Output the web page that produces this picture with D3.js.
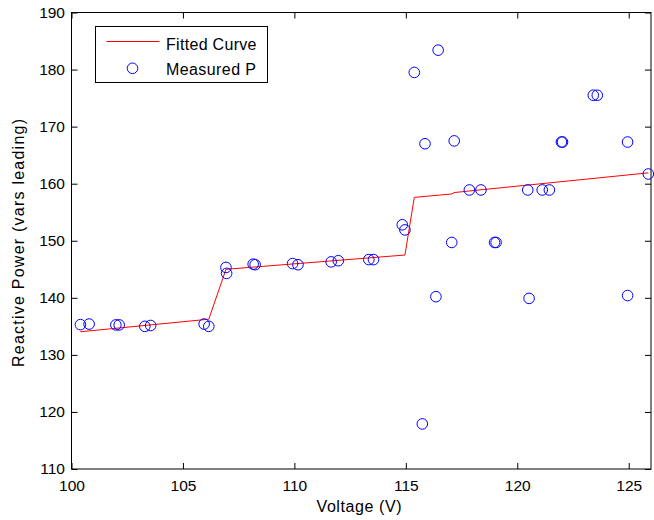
<!DOCTYPE html>
<html>
<head>
<meta charset="utf-8">
<script src="https://cdn.jsdelivr.net/npm/d3@7"></script>
<style>
  body { margin: 0; background: #fff; }
  svg { display: block; }
  text { font-family: "Liberation Sans", Arial, sans-serif; fill: #000; }
</style>
</head>
<body>
<div id="chart"></div>
<script>
// measured points
var voltage = [100.40, 100.79, 101.99, 102.14, 103.29, 103.55, 105.95, 106.16,
  106.93, 106.96, 108.15, 108.24, 109.92, 110.16, 111.65, 111.97, 113.34, 113.55,
  114.84, 114.96, 115.38, 115.74, 115.86, 116.35, 116.45, 117.06, 117.17, 117.85,
  118.37, 118.98, 119.05, 120.47, 120.53, 121.12, 121.44, 121.98, 122.03, 123.41,
  123.59, 124.95, 124.95, 125.88];
var power = [135.3, 135.4, 135.25, 135.25, 135.0, 135.15, 135.4, 135.0,
  145.33, 144.28, 145.9, 145.8, 146.0, 145.8, 146.3, 146.5, 146.7, 146.7,
  152.8, 151.9, 179.5, 117.9, 167.0, 140.2, 183.4, 149.7, 167.5, 158.9,
  158.9, 149.7, 149.7, 158.9, 139.9, 158.9, 158.9, 167.3, 167.3, 175.5,
  175.5, 167.3, 140.4, 161.7];

// fitted curve
var fitVoltage = [100.40, 106.16, 106.93, 114.96, 115.38, 117.06, 117.17, 125.88];
var fitPower = [134.05, 136.25, 145.0, 147.5, 157.6, 158.2, 158.45, 161.9];

var xTicks = [100, 105, 110, 115, 120, 125];
var yTicks = [110, 120, 130, 140, 150, 160, 170, 180, 190];

var W = 654, H = 520;
var margin = {top: 12.5, right: 3, bottom: 51, left: 71.5},
    width = W - margin.left - margin.right,
    height = H - margin.top - margin.bottom;

var svg = d3.select("#chart").append("svg")
    .attr("width", W)
    .attr("height", H);

var g = svg.append("g")
    .attr("transform", "translate(" + margin.left + "," + margin.top + ")");

var x = d3.scaleLinear().domain([100, 126]).range([0, width]);
var y = d3.scaleLinear().domain([110, 190]).range([height, 0]);

var tick = 6;

// axes with inward ticks (box on all four sides)
var axB = g.append("g").attr("transform", "translate(0," + height + ")")
    .call(d3.axisBottom(x).tickValues(xTicks).tickSizeInner(-tick).tickSizeOuter(0).tickPadding(11));
var axL = g.append("g")
    .call(d3.axisLeft(y).tickValues(yTicks).tickSizeInner(-tick).tickSizeOuter(0).tickPadding(6.5));
var axT = g.append("g")
    .call(d3.axisTop(x).tickValues(xTicks).tickSizeInner(-tick).tickSizeOuter(0).tickFormat(""));
var axR = g.append("g").attr("transform", "translate(" + width + ",0)")
    .call(d3.axisRight(y).tickValues(yTicks).tickSizeInner(-tick).tickSizeOuter(0).tickFormat(""));

[axB, axL, axT, axR].forEach(function(a) {
  a.select(".domain").remove();
  a.selectAll("line").attr("stroke", "#000");
  a.selectAll("text").style("font-size", "15.5px").style("font-family", "Liberation Sans, Arial, sans-serif");
});

g.append("rect")
    .attr("width", width)
    .attr("height", height)
    .attr("fill", "none")
    .attr("stroke", "#000")
    .attr("stroke-width", 1);

// fitted curve
var fitData = fitVoltage.map(function(v, i) { return {v: v, p: fitPower[i]}; });
var line = d3.line()
    .x(function(d) { return x(d.v); })
    .y(function(d) { return y(d.p); });

g.append("path")
    .attr("d", line(fitData))
    .attr("fill", "none")
    .attr("stroke", "#ff0000")
    .attr("stroke-width", 1);

// measured points
var pts = voltage.map(function(v, i) { return {v: v, p: power[i]}; });
g.selectAll(".dot")
    .data(pts)
    .enter()
    .append("circle")
    .attr("class", "dot")
    .attr("cx", function(d) { return x(d.v); })
    .attr("cy", function(d) { return y(d.p); })
    .attr("r", 5.3)
    .attr("fill", "none")
    .attr("stroke", "#0000ff")
    .attr("stroke-width", 1);

// legend
var leg = svg.append("g").attr("transform", "translate(95.5,26.5)");
leg.append("rect")
    .attr("width", 172)
    .attr("height", 56)
    .attr("fill", "#fff")
    .attr("stroke", "#000");
leg.append("line")
    .attr("x1", 11).attr("x2", 64)
    .attr("y1", 15).attr("y2", 15)
    .attr("stroke", "#ff0000");
leg.append("text")
    .attr("x", 70.5).attr("y", 23)
    .attr("textLength", 90.5)
    .attr("lengthAdjust", "spacing")
    .style("font-size", "16px")
    .text("Fitted Curve");
leg.append("circle")
    .attr("cx", 37).attr("cy", 41.8)
    .attr("r", 5.3)
    .attr("fill", "none")
    .attr("stroke", "#0000ff");
leg.append("text")
    .attr("x", 70.5).attr("y", 48)
    .attr("textLength", 90)
    .attr("lengthAdjust", "spacing")
    .style("font-size", "16px")
    .text("Measured P");

// axis labels
svg.append("text")
    .attr("x", 359)
    .attr("y", 512)
    .attr("text-anchor", "middle")
    .attr("textLength", 85)
    .attr("lengthAdjust", "spacing")
    .style("font-size", "16px")
    .text("Voltage (V)");
svg.append("text")
    .attr("transform", "translate(24,243) rotate(-90)")
    .attr("text-anchor", "middle")
    .attr("textLength", 248)
    .attr("lengthAdjust", "spacing")
    .style("font-size", "16px")
    .text("Reactive Power (vars leading)");
</script>
</body>
</html>
